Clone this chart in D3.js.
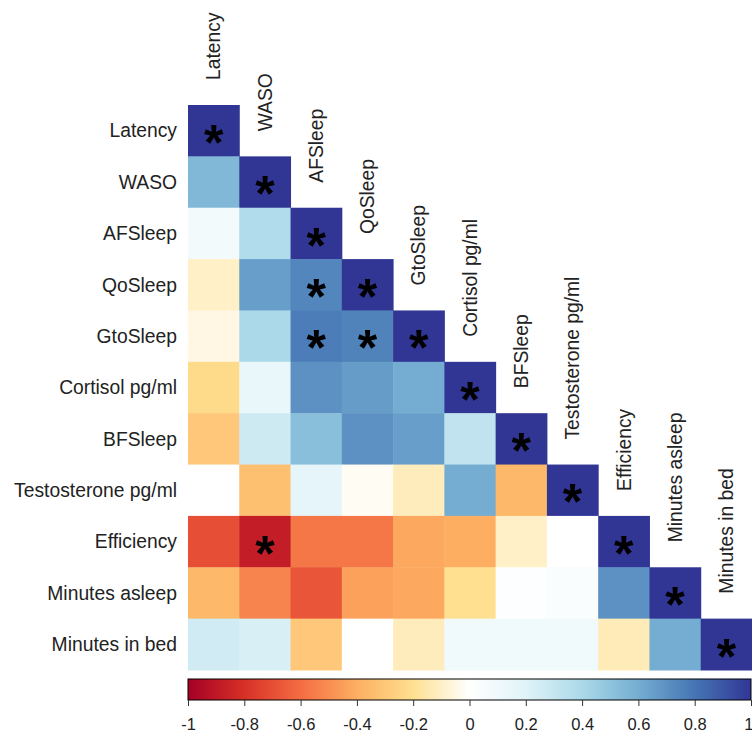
<!DOCTYPE html>
<html>
<head>
<meta charset="utf-8">
<script src="https://cdn.jsdelivr.net/npm/d3@7"></script>
<style>
  body { margin: 0; background: #fff; }
  svg { display: block; }
  text { font-family: "Liberation Sans", Arial, sans-serif; fill: #222; }
</style>
</head>
<body>
<svg id="chart" width="752" height="733"></svg>
<script>
// variables, in matrix order
let vars = ["Latency", "WASO", "AFSleep", "QoSleep", "GtoSleep", "Cortisol pg/ml",
  "BFSleep", "Testosterone pg/ml", "Efficiency", "Minutes asleep", "Minutes in bed"];

// lower triangle of the correlation matrix, row by row (diagonal included)
let corrRows = [
  [1],
  [0.55, 1],
  [0.08, 0.38, 1],
  [-0.1, 0.65, 0.74, 1],
  [-0.05, 0.4, 0.77, 0.75, 1],
  [-0.22, 0.14, 0.7, 0.66, 0.6, 1],
  [-0.3, 0.27, 0.52, 0.7, 0.65, 0.32, 1],
  [0.0, -0.33, 0.17, -0.02, -0.12, 0.6, -0.36, 1],
  [-0.7, -0.88, -0.57, -0.57, -0.42, -0.4, -0.1, 0.0, 1],
  [-0.36, -0.53, -0.68, -0.44, -0.42, -0.2, 0.01, 0.04, 0.7, 1],
  [0.26, 0.23, -0.3, 0.0, -0.12, 0.1, 0.1, 0.1, -0.13, 0.6, 1]
];

// significant pairs [row, col]
let sigPairs = [[3, 2], [4, 2], [4, 3], [8, 1]];

let paletteStops = [-1, -0.8, -0.6, -0.4, -0.2, 0, 0.2, 0.4, 0.6, 0.8, 1];
let paletteColors = ["#A50026", "#D73027", "#F46D43", "#FDAE61", "#FEE090", "#FFFFFF",
  "#E0F3F8", "#ABD9E9", "#74ADD1", "#4575B4", "#313695"];

let legendTicks = [-1, -0.8, -0.6, -0.4, -0.2, 0, 0.2, 0.4, 0.6, 0.8, 1];

// flatten into cells
let cells = [];
corrRows.forEach(function(row, i) {
  row.forEach(function(v, j) {
    let sig = i == j || sigPairs.some(function(p) { return p[0] == i && p[1] == j; });
    cells.push({ row: vars[i], col: vars[j], value: v, sig: sig });
  });
});

let svg = d3.select("#chart");

let x = d3.scaleBand().domain(vars).range([188, 752]).padding(0);
let y = d3.scaleBand().domain(vars).range([105, 670]).padding(0);

let color = d3.scaleLinear()
  .domain(paletteStops)
  .range(paletteColors)
  .interpolate(d3.interpolateRgb);

// cells
svg.append("g")
  .selectAll("rect")
  .data(cells)
  .enter()
  .append("rect")
    .attr("x", function(d) { return x(d.col); })
    .attr("y", function(d) { return y(d.row); })
    .attr("width", x.bandwidth() + 0.5)
    .attr("height", y.bandwidth() + 0.5)
    .attr("fill", function(d) { return color(d.value); });

// significance stars
let starSize = 50;
svg.append("g")
  .selectAll("text")
  .data(cells.filter(function(d) { return d.sig; }))
  .enter()
  .append("text")
    .attr("x", function(d) { return x(d.col) + x.bandwidth() / 2; })
    .attr("y", function(d) { return y(d.row) + y.bandwidth() / 2 + starSize * 0.585; })
    .attr("text-anchor", "middle")
    .style("font-size", starSize + "px")
    .style("font-weight", "bold")
    .style("fill", "#000")
    .text("*");

// row labels
svg.append("g")
  .selectAll("text")
  .data(vars)
  .enter()
  .append("text")
    .attr("x", 177)
    .attr("y", function(d) { return y(d) + y.bandwidth() / 2; })
    .attr("dy", "0.35em")
    .attr("text-anchor", "end")
    .style("font-size", "19.3px")
    .text(function(d) { return d; });

// column labels, rotated, above the diagonal cell
svg.append("g")
  .selectAll("text")
  .data(vars)
  .enter()
  .append("text")
    .attr("transform", function(d) {
      return "translate(" + (x(d) + x.bandwidth() / 2) + "," + (y(d) - 25) + ") rotate(-90)";
    })
    .attr("dy", "0.35em")
    .attr("text-anchor", "start")
    .style("font-size", "19.3px")
    .text(function(d) { return d; });

// colour bar
let barTop = 679, barH = 21;
let xLegend = d3.scaleLinear().domain([-1, 1]).range([188, 751]);

let grad = svg.append("defs").append("linearGradient")
  .attr("id", "corrGrad")
  .attr("x1", "0%").attr("x2", "100%").attr("y1", "0%").attr("y2", "0%");
grad.selectAll("stop")
  .data(paletteStops)
  .enter()
  .append("stop")
    .attr("offset", function(d) { return ((d + 1) / 2 * 100) + "%"; })
    .attr("stop-color", function(d) { return color(d); });

svg.append("rect")
  .attr("x", xLegend(-1))
  .attr("y", barTop)
  .attr("width", xLegend(1) - xLegend(-1))
  .attr("height", barH)
  .attr("fill", "url(#corrGrad)")
  .attr("stroke", "#000")
  .attr("stroke-width", 1);

let legendAxis = svg.append("g")
  .attr("transform", "translate(0," + (barTop + barH) + ")")
  .call(d3.axisBottom(xLegend)
    .tickValues(legendTicks)
    .tickSize(6)
    .tickFormat(function(d) { return String(+d.toFixed(1)); }));
legendAxis.select(".domain").remove();
legendAxis.selectAll("line").attr("stroke", "#333");
legendAxis.selectAll("text")
  .attr("y", 18)
  .style("font-size", "16.5px")
  .style("font-family", "'Liberation Sans', Arial, sans-serif")
  .attr("fill", "#222")
  .attr("text-anchor", function(d) { return d == 1 ? "end" : "middle"; })
  .attr("dx", function(d) { return d == 1 ? "2px" : null; });
</script>
</body>
</html>
